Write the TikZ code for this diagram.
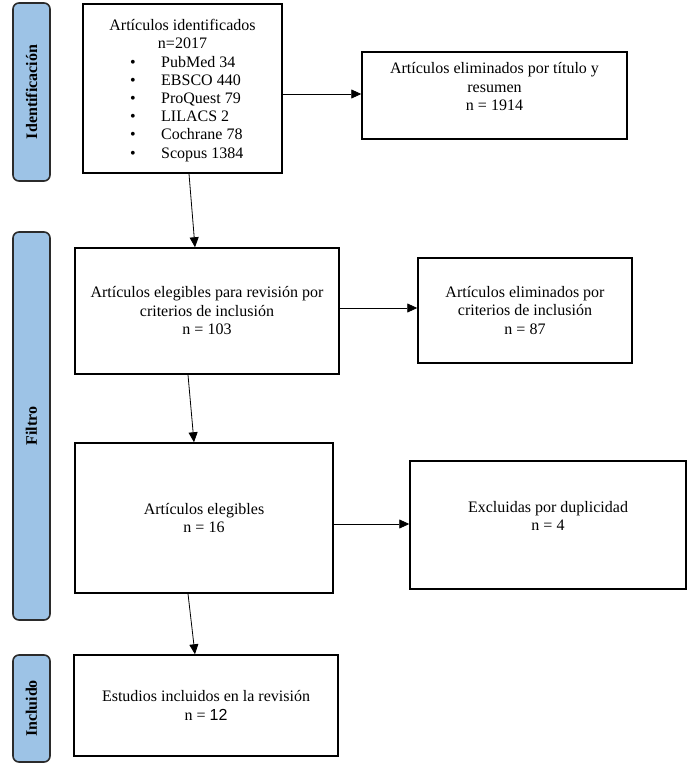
\documentclass[tikz,border=0pt]{standalone}
\usepackage{fontspec}
\setmainfont{Liberation Serif}
\newfontfamily\sansnum{Liberation Sans}
\usetikzlibrary{arrows.meta,calc}
\definecolor{barblue}{HTML}{9DC3E6}
\definecolor{bardark}{HTML}{2B2B2B}
\begin{document}
\begin{tikzpicture}[x=1pt,y=-1pt,
  box/.style={draw=black,line width=1.5pt,rectangle,inner sep=0pt,align=center,font=\fontsize{16}{18.5}\selectfont},
  bar/.style={draw=bardark,line width=1.6pt,fill=barblue,rounded corners=6pt,inner sep=0pt,minimum width=37pt},
  barlabel/.style={rotate=90,font=\fontsize{16}{18.5}\selectfont\bfseries},
  txt/.style={inner sep=0pt,font=\fontsize{16}{18.5}\selectfont},
  arr/.style={line width=0.8pt,-{Triangle[length=10pt,width=9pt]}}]
\useasboundingbox (0,0) rectangle (698,766);
% side bars
\node[bar,minimum height=178pt] (bId) at (31.5,92) {};
\node[barlabel] (lId) at (bId.center) {Identificación};
\node[bar,minimum height=388pt] (bFi) at (31.5,426) {};
\node[barlabel] (lFi) at (bFi.center) {Filtro};
\node[bar,minimum height=107pt] (bIn) at (31.5,708.5) {};
\node[barlabel] (lIn) at (bIn.center) {Incluido};
% box 1
\node[box,minimum width=199pt,minimum height=169pt] (b1) at (182.5,88.5) {};
\node[txt,anchor=base] (t1) at (182.5,30) {Artículos identificados};
\node[txt,anchor=base] (t2) at (182.5,48.5) {n=2017};
\foreach \i/\s in {0/PubMed 34,1/EBSCO 440,2/ProQuest 79,3/LILACS 2,4/Cochrane 78,5/Scopus 1384}{
  \node[txt,anchor=base] (bul\i) at (133,67+18.2*\i) {•};
  \node[txt,anchor=base west] (it\i) at (161,67+18.2*\i) {\s};
}
% box 2
\node[box,minimum width=265pt,minimum height=87pt] (b2) at (494.5,95.5) {};
\node[txt,align=center] (t3) at (494.5,87) {Artículos eliminados por título y\\resumen\\n = 1914};
% box 3
\node[box,minimum width=264pt,minimum height=126pt] (b3) at (207,311) {Artículos elegibles para revisión por\\criterios de inclusión\\n = 103};
% box 4
\node[box,minimum width=214pt,minimum height=105pt] (b4) at (525,310.5) {Artículos eliminados por\\criterios de inclusión\\n = 87};
% box 5
\node[box,minimum width=258pt,minimum height=150pt] (b5) at (204,518) {Artículos elegibles\\n = 16};
% box 6
\node[box,minimum width=276pt,minimum height=128pt] (b6) at (548,525) {};
\node[txt,align=center] (t6) at (548,516) {Excluidas por duplicidad\\n = 4};
% box 7
\node[box,minimum width=264pt,minimum height=101pt] (b7) at (206,705.5) {Estudios incluidos en la revisión\\n = {\sansnum 12}};
% arrows
\coordinate (a1) at (0,94);
\coordinate (a2) at (0,308);
\coordinate (a3) at (0,524);
\draw[arr] (b1.east |- a1) -- (b2.west |- a1);
\draw[arr] (b3.east |- a2) -- (b4.west |- a2);
\draw[arr] (b5.east |- a3) -- (b6.west |- a3);
\draw[arr] ([xshift=6.5pt]b1.south) -- ([xshift=-12pt]b3.north);
\draw[arr] ([xshift=-19pt]b3.south) -- ([xshift=-10pt]b5.north);
\draw[arr] ([xshift=-16pt]b5.south) -- ([xshift=-11pt]b7.north);
\end{tikzpicture}
\end{document}
